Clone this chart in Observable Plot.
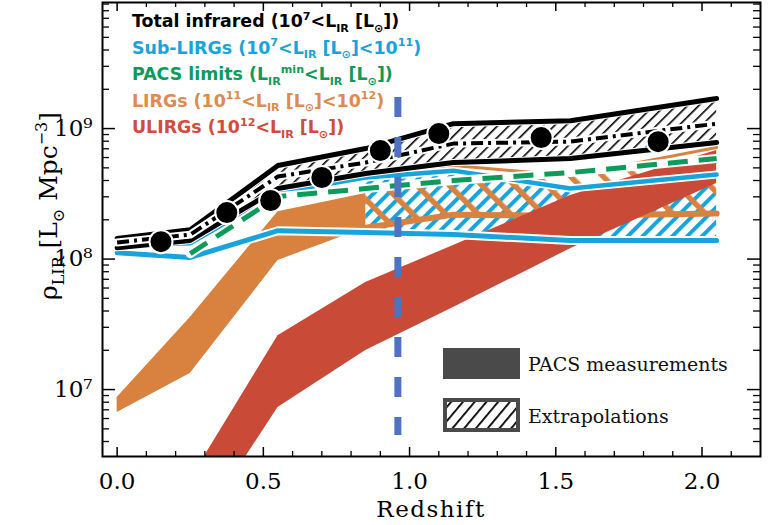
<!DOCTYPE html>
<html><head><meta charset="utf-8">
<script src="https://cdn.jsdelivr.net/npm/d3@7"></script>
<script src="https://cdn.jsdelivr.net/npm/@observablehq/plot@0.6"></script>
<style>body{margin:0;background:#fff} #chart{width:772px;height:525px} text{white-space:pre}</style>
</head><body><div id="chart"></div>
<script>
// ---------------- data ----------------
const bins      = [0, 0.25, 0.55, 0.85, 1.15, 1.55, 2.05];
const totUpper  = [1.44e8, 1.68e8, 5.21e8, 7.03e8, 1.09e9, 1.15e9, 1.70e9];
const totLower  = [1.22e8, 1.39e8, 3.47e8, 4.52e8, 5.49e8, 5.89e8, 7.82e8];
const totMid    = [1.34e8, 1.54e8, 4.29e8, 5.49e8, 7.67e8, 7.95e8, 1.09e9];
const subUpper  = [1.27e8, 1.32e8, 3.23e8, 4.21e8, 4.76e8, 3.47e8, 4.44e8];
const subLower  = [1.12e8, 1.03e8, 1.65e8, 1.60e8, 1.54e8, 1.39e8, 1.39e8];
const pacsZ     = [0.25, 0.55, 0.85, 1.15, 1.55, 2.05];
const pacsLim   = [1.10e8, 3.01e8, 3.47e8, 4.00e8, 4.60e8, 5.89e8];
const lirgZmeas = [0, 0.25, 0.55, 0.85];
const lirgUpMeas= [8.69e6, 3.56e7, 2.31e8, 3.18e8];
const lirgLoMeas= [6.67e6, 1.33e7, 9.74e7, 1.74e8];
const lirgZext  = [0.85, 1.15, 1.55, 2.05];
const lirgUpExt = [4.29e8, 5.21e8, 4.36e8, 7.15e8];
const lirgLoExt = [1.74e8, 2.19e8, 2.15e8, 2.23e8];
const ulirgZ    = [0.25, 0.55, 0.85, 1.15, 1.55, 2.05];
const ulirgUp   = [2.04e6, 2.59e7, 6.61e7, 1.27e8, 3.07e8, 6.78e8];
const ulirgLo   = [6.84e5, 7.28e6, 1.99e7, 4.25e7, 1.20e8, 3.79e8];
const pointZ    = [0.15, 0.375, 0.525, 0.7, 0.9, 1.1, 1.45, 1.85];
const pointRho  = [1.36e8, 2.27e8, 2.81e8, 4.22e8, 6.78e8, 9.16e8, 8.53e8, 7.94e8];
const pacsZlimit = 0.96;               // vertical dashed line
const pacsLineTop = 1.73e9, pacsLineBottom = 4.44e6;
const xTicks = [0, 0.5, 1, 1.5, 2];
const xMinor = [0.1,0.2,0.3,0.4,0.6,0.7,0.8,0.9,1.1,1.2,1.3,1.4,1.6,1.7,1.8,1.9,2.1];
const yTicks = [1e7, 1e8, 1e9];
const yMinor = [4e6,5e6,6e6,7e6,8e6,9e6,2e7,3e7,4e7,5e7,6e7,7e7,8e7,9e7,
                2e8,3e8,4e8,5e8,6e8,7e8,8e8,9e8,2e9,3e9,4e9,5e9,6e9,7e9,8e9,9e9];
const xTickLabels = ["0.0","0.5","1.0","1.5","2.0"];
const yTickLabels = ["10⁷","10⁸","10⁹"];

// ---------------- layout ----------------
const W = 772, H = 525, mL = 102, mR = 12, mT = 2, mB = 69;
const pw = W - mL - mR, ph = H - mT - mB;
const C = {cyan:"#17a4dd", green:"#0e9a5a", orange:"#d9823f", orangeT:"#e08a4c",
           red:"#c94a36", redT:"#d24c3b", blue:"#4e74c0", gray:"#4a4a4a"};

const tot   = bins.map((z,i)=>({z, hi:totUpper[i], lo:totLower[i], mid:totMid[i]}));
const sub   = bins.map((z,i)=>({z, hi:subUpper[i], lo:subLower[i]}));
const subE  = sub.filter(d => d.z >= 0.85);
const pacs  = pacsZ.map((z,i)=>({z, v:pacsLim[i]}));
const lirgM = lirgZmeas.map((z,i)=>({z, hi:lirgUpMeas[i], lo:lirgLoMeas[i]}));
// hatched LIRG extrapolation: hatching visible below the PACS-limit line
const lirgE = lirgZext.map((z,i)=>({z, hi:lirgUpExt[i], lo:lirgLoExt[i],
                                    top: Math.min(lirgUpExt[i], pacsLim[pacsZ.indexOf(z)])}));
const ulirg = ulirgZ.map((z,i)=>({z, hi:ulirgUp[i], lo:ulirgLo[i]}));
const pts   = pointZ.map((z,i)=>({z, v:pointRho[i]}));

const ln = (data, y, stroke, w, extra={}) => Plot.line(data, {x:"z", y, stroke, strokeWidth:w, ...extra});

const plot = Plot.plot({
  width: W, height: H, marginLeft: mL, marginRight: mR, marginTop: mT, marginBottom: mB,
  x: {domain: [-0.05, 2.2]},
  y: {type: "log", domain: [3.07e6, 9.25e9]},
  style: {fontFamily: "DejaVu Serif", fontSize: "23px", color: "black", background: "white"},
  marks: [
    Plot.areaY(tot,  {x:"z", y1:"lo", y2:"hi", fill:"url(#hBlack)"}),
    Plot.areaY(subE, {x:"z", y1:"lo", y2:"hi", fill:"url(#hCyan)"}),
    Plot.areaY(lirgE,{x:"z", y1:"lo", y2:"top", fill:"url(#hOrange)"}),
    Plot.areaY(lirgM,{x:"z", y1:"lo", y2:"hi", fill:C.orange}),
    ln(lirgE, "hi", C.orange, 3),
    ln(lirgE, "lo", C.orange, 6),
    Plot.areaY(ulirg,{x:"z", y1:"lo", y2:"hi", fill:C.red, clip:true}),
    ln(sub, "lo", "white", 9), ln(sub, "lo", C.cyan, 5),
    ln(sub, "hi", "white", 8), ln(sub, "hi", C.cyan, 4.5),
    ln(tot, "lo", "white", 7), ln(tot, "lo", "black", 5),
    ln(tot, "hi", "white", 7), ln(tot, "hi", "black", 5),
    ln(tot, "mid", "white", 8),
    ln(tot, "mid", "black", 4, {strokeDasharray:"12,5,3,5", strokeLinecap:"butt"}),
    ln(pacs, "v", "white", 9),
    ln(pacs, "v", C.green, 5, {strokeDasharray:"20,11", strokeLinecap:"butt"}),
    Plot.dot(pts, {x:"z", y:"v", r:11.5, fill:"black", stroke:"white", strokeWidth:2}),
    Plot.ruleX([pacsZlimit], {x:d=>d, y1:pacsLineTop, y2:pacsLineBottom, stroke:C.blue, strokeWidth:7, strokeDasharray:"20,20"}),
    // inward ticks on all four sides
    Plot.tickX(xTicks, {x:d=>d, insetTop: ph-9, stroke:"black", strokeWidth:1.5}),
    Plot.tickX(xTicks, {x:d=>d, insetBottom: ph-9, stroke:"black", strokeWidth:1.5}),
    Plot.tickX(xMinor, {x:d=>d, insetTop: ph-5, stroke:"black", strokeWidth:1.3}),
    Plot.tickX(xMinor, {x:d=>d, insetBottom: ph-5, stroke:"black", strokeWidth:1.3}),
    Plot.tickY(yTicks, {y:d=>d, insetRight: pw-13, stroke:"black", strokeWidth:1.5}),
    Plot.tickY(yTicks, {y:d=>d, insetLeft: pw-13, stroke:"black", strokeWidth:1.5}),
    Plot.tickY(yMinor, {y:d=>d, insetRight: pw-7, stroke:"black", strokeWidth:1.3}),
    Plot.tickY(yMinor, {y:d=>d, insetLeft: pw-7, stroke:"black", strokeWidth:1.3}),
    Plot.frame({stroke:"black", strokeWidth:2}),
    Plot.axisX({ticks: xTicks, tickSize: 0, tickPadding: 16, label: null,
                tickFormat: d => xTickLabels[xTicks.indexOf(d)]}),
    Plot.axisY({ticks: yTicks, tickSize: 0, tickPadding: 10, label: null,
                tickFormat: d => yTickLabels[yTicks.indexOf(d)]})
  ]
});
document.getElementById("chart").appendChild(plot);

// ---------------- patterns ----------------
const svg = d3.select(plot);
const defs = svg.insert("defs", ":first-child");
function hatch(id, s, angle, color, lw) {
  const p = defs.append("pattern").attr("id", id).attr("patternUnits", "userSpaceOnUse")
    .attr("width", s).attr("height", s).attr("patternTransform", `rotate(${angle})`);
  p.append("rect").attr("x", 0).attr("y", 0).attr("width", lw).attr("height", s).attr("fill", color);
}
hatch("hBlack", 8, 45, "black", 1.6);
hatch("hCyan", 10.5, 45, C.cyan, 4);
hatch("hOrange", 23, -45, C.orange, 5.5);
hatch("hLegend", 9, 40, "black", 1.8);

// ---------------- text helpers ----------------
const g = svg.append("g").attr("text-anchor", "start");
function rich(x, y, parts, fs, attrs = {}, target = 0) {
  const t = g.append("text").attr("x", x).attr("y", y).attr("text-anchor", "start");
  for (const [k, v] of Object.entries(attrs)) t.attr(k, v);
  const build = (f) => {
    t.selectAll("tspan").remove();
    t.attr("font-size", f);
    let cur = 0;
    for (const p of parts) {
      const [s, kind] = typeof p === "string" ? [p, ""] : p;
      const off = kind === "sub" ? 0.26 * f : kind === "sup" ? -0.42 * f : 0;
      const ts = t.append("tspan").attr("dy", off - cur).text(s);
      if (kind) ts.attr("font-size", 0.64 * f);
      cur = off;
    }
  };
  build(fs);
  if (target) {
    const len = t.node().getComputedTextLength();
    if (len > 0) build(fs * target / len);
  }
  return t;
}
const LS = {"font-family": "DejaVu Sans", "font-weight": "bold"};
const legend = [
  {color: "black",  parts: ["Total infrared (10", ["7","sup"], "<L", ["IR","sub"], " [L", ["⊙","sub"], "])"]},
  {color: C.cyan,   parts: ["Sub-LIRGs (10", ["7","sup"], "<L", ["IR","sub"], " [L", ["⊙","sub"], "]<10", ["11","sup"], ")"]},
  {color: C.green,  parts: ["PACS limits (L", ["IR","sub"], ["min","sup"], "<L", ["IR","sub"], " [L", ["⊙","sub"], "])"]},
  {color: C.orangeT,parts: ["LIRGs (10", ["11","sup"], "<L", ["IR","sub"], " [L", ["⊙","sub"], "]<10", ["12","sup"], ")"]},
  {color: C.redT,   parts: ["ULIRGs (10", ["12","sup"], "<L", ["IR","sub"], " [L", ["⊙","sub"], "])"]}
];
legend.forEach((d, i) => rich(132, 27.3 + i * 26.5, d.parts, 17.4, {...LS, fill: d.color}));

// bottom-right legend
g.append("rect").attr("x", 443).attr("y", 348).attr("width", 77).attr("height", 31).attr("fill", C.gray);
g.append("rect").attr("x", 445).attr("y", 400).attr("width", 73).attr("height", 30).attr("fill", "url(#hLegend)")
  .attr("stroke", C.gray).attr("stroke-width", 4);
rich(528, 370.5, ["PACS measurements"], 19, {"font-family": "DejaVu Serif", fill: "#111"}, 200);
rich(528, 422.5, ["Extrapolations"], 19, {"font-family": "DejaVu Serif", fill: "#111"});

// axis titles
const rt = rich(0, 0, ["Redshift"], 23, {"font-family": "DejaVu Serif", "letter-spacing": "1.5"});
rt.attr("text-anchor", "middle").attr("transform", "translate(431,517)");
const yl = rich(0, 0, ["ρ", ["LIR","sub"], " [L", ["⊙","sub"], " Mpc", ["−3","sup"], "]"], 22,
     {"font-family": "DejaVu Serif"}, 188);
yl.attr("text-anchor", "middle").attr("transform", "translate(57,206) rotate(-90)");
</script></body></html>
